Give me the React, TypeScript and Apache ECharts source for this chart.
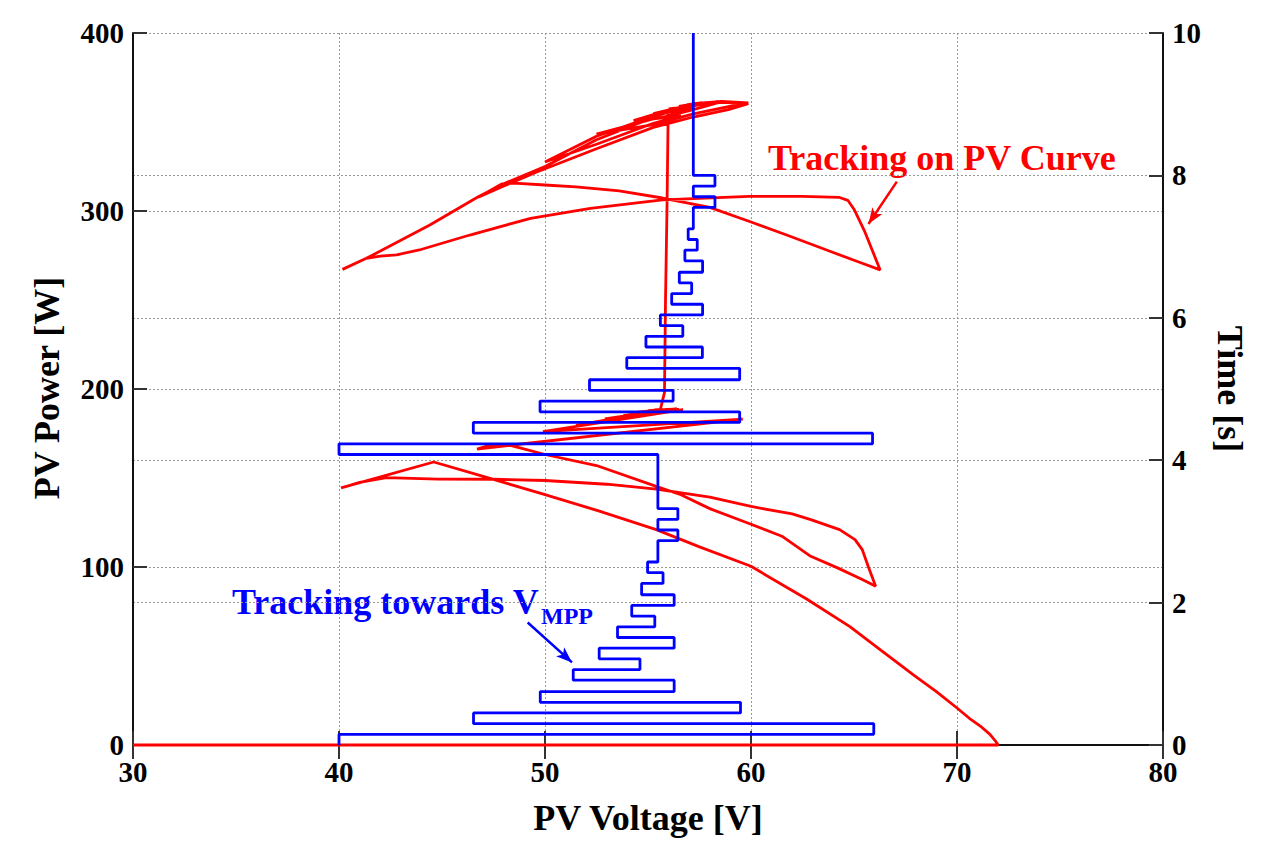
import { useEffect, useRef } from "react";
import * as echarts from "echarts";

const serif = '"Liberation Serif", "Times New Roman", serif';

// blue: voltage reference held over time (right axis), one entry per hold
const holdTimes = [
  0, 0.15, 0.3, 0.45, 0.6, 0.75, 0.91, 1.06, 1.21, 1.36,
  1.51, 1.66, 1.81, 1.96, 2.11, 2.27, 2.42, 2.57, 2.87, 3.02,
  3.17, 3.32, 4.08, 4.23, 4.38, 4.53, 4.68, 4.83, 4.98, 5.13,
  5.29, 5.44, 5.59, 5.74, 5.89, 6.04, 6.19, 6.34, 6.49, 6.64,
  6.8, 6.95, 7.1, 7.25, 7.55, 7.7, 7.85, 8.0,
];
const holdVoltages = [
  40, 65.96, 46.53, 59.49, 49.77, 56.27, 51.37, 54.61, 52.63, 56.27,
  53.52, 55.33, 54.21, 56.27, 54.69, 55.73, 54.98, 55.48, 56.45, 55.48,
  56.45, 55.48, 40.0, 65.9, 46.52, 59.45, 49.76, 56.22, 52.16, 59.45,
  53.97, 57.64, 54.9, 56.69, 55.6, 57.65, 56.15, 57.12, 56.52, 57.65,
  56.79, 57.39, 56.95, 57.2, 58.25, 57.2, 58.25, 57.2,
];
const holdEnd = 10;

// red: measured P-V trajectory, [V, W]
const redStartup = [[30, 0], [72, 0]];
const redLowSweep = [
  [71.85, 2.5], [71.6, 6], [71.2, 10], [70.6, 15], [70, 20.8], [69, 30],
  [67.9, 39.3], [66.3, 53.3], [64.8, 66.5], [62.7, 82], [60, 100.4],
  [57.5, 111.3], [55.4, 121], [52.6, 131.5], [50, 140.7], [47, 150.9],
  [44.6, 159], [40.1, 144.4],
];
const redLowTo66 = [
  [41, 147.5], [42.3, 150.2], [44.8, 149.4], [47.5, 149.3], [50, 148.6],
  [53, 146.5], [55.4, 143.7], [58, 139.2], [60, 134], [62, 129.8],
  [62.9, 126.6], [64.3, 121], [65.05, 115.4], [65.4, 109.8], [65.7, 100],
  [66.05, 89.2],
];
const redLowTo46 = [
  [65.4, 93], [64.2, 99.5], [62.9, 106], [61.5, 117.3], [60, 124],
  [58, 132.8], [56.6, 140.6], [55.4, 145.3], [52.5, 157], [50, 163.2],
  [48.2, 168.7], [47.3, 168.4], [46.7, 166.3],
];
const redLowZigzag = [
  [59.6, 183.1], [49.9, 176], [56.7, 188.4], [51.5, 179.6], [54.9, 186.6],
  [52.9, 183.2], [56.5, 188.6], [53.8, 185], [55.6, 188.2], [54.5, 187],
  [56.4, 188.8], [55, 187.8], [56, 188.6], [55.3, 188.2], [55.6, 188.5],
];
const redRise = [[55.8, 198], [55.85, 250], [55.92, 300], [55.98, 355.6]];
const redHighTo40 = [
  [55.26, 352.5], [52.5, 340], [50, 325], [47.97, 315.2], [46.76, 308],
  [44.41, 292.1], [41.33, 273.4], [40.17, 267.2],
];
const redHighTo66 = [
  [41.33, 273.4], [42, 274.6], [42.8, 275.4], [43.9, 278.1], [46.35, 286.5],
  [49.3, 295.9], [52.2, 301.5], [55.7, 306.2], [59.9, 308.2], [62.5, 308.2],
  [64.3, 307.6], [64.7, 306], [65, 301], [65.5, 289], [66.27, 266.9],
];
const redHighTo46 = [
  [65.2, 271.5], [63.8, 277.5], [61.73, 286.5], [60, 293.8], [58, 302],
  [55.7, 307.3], [53.6, 311.3], [51.5, 313.5], [50, 314.6], [48.5, 315.7],
  [47.9, 315.2], [46.76, 307.7],
];
const redHighZigzag = [
  [48, 314], [49.6, 321.9], [52.5, 335], [55.26, 347], [57.2, 352.8], [58.9, 357], [59.87, 360.3],
  [58.58, 361], [57.2, 359.3], [55.26, 353.2], [52.5, 342], [50, 327.5],
  [52.5, 337.5], [55.26, 349.3], [56.6, 353.5],
  [55.26, 351.8], [52.5, 343.2],
  [55.26, 348.5], [57.2, 354.6], [58.9, 358.6], [59.87, 360.8],
  [58.58, 361.6], [57.2, 360.3], [55.26, 354.2], [54.3, 350.8],
  [55.5, 352], [57.2, 357], [58.58, 361.4],
  [57.2, 360], [55.26, 354.7],
  [56.2, 355.5], [57.2, 358.2], [56, 357.3],
  [57.2, 359], [58.4, 361.5],
  [57.2, 360.2], [56.5, 358.8],
  [57.4, 360.3], [56.9, 359.8], [57.6, 360.8], [57.2, 360.3],
];

// annotation arrows: red in [V, W], blue in [V, s]
const redArrow = [[67.08, 316.5], [65.7, 292.7]];
const blueArrow = [[49.16, 1.72], [51.31, 1.16]];

export default function App() {
  const chartRef = useRef<HTMLDivElement | null>(null);

  useEffect(() => {
    if (!chartRef.current) {
      return;
    }

    const bluePath: number[][] = [];
    holdVoltages.forEach((v, i) => {
      const next = i + 1 < holdTimes.length ? holdTimes[i + 1] : holdEnd;
      bluePath.push([v, holdTimes[i]], [v, next]);
    });

    const redPath = [
      ...redStartup, ...redLowSweep, ...redLowTo66, ...redLowTo46,
      ...redLowZigzag, ...redRise, ...redHighTo40, ...redHighTo66,
      ...redHighTo46, ...redHighZigzag,
    ];

    const axisLabel = {
      color: "#000",
      fontFamily: serif,
      fontWeight: "bold" as const,
      fontSize: 29,
    };
    const axisLine = { show: true, lineStyle: { color: "#111", width: 2 } };
    const axisTick = { show: true, inside: true, length: 14, lineStyle: { color: "#333", width: 2 } };
    const splitLine = { show: true, lineStyle: { color: "#999", width: 1, type: [2, 2] } };

    const chart = echarts.init(chartRef.current, null, { renderer: "svg" });
    chart.setOption({
      animation: false,
      backgroundColor: "#fff",
      grid: { left: 133, right: 117, top: 33, bottom: 107 },
      xAxis: [
        {
          type: "value",
          min: 30,
          max: 80,
          interval: 10,
          position: "bottom",
          axisLine,
          axisTick,
          splitLine,
          axisLabel: { ...axisLabel, margin: 12 },
        },
        {
          type: "value",
          min: 30,
          max: 80,
          interval: 10,
          position: "top",
          axisLine,
          axisTick,
          splitLine: { show: false },
          axisLabel: { show: false },
        },
      ],
      yAxis: [
        {
          type: "value",
          min: 0,
          max: 400,
          interval: 100,
          position: "left",
          axisLine,
          axisTick,
          splitLine,
          axisLabel: { ...axisLabel, margin: 9 },
        },
        {
          type: "value",
          min: 0,
          max: 10,
          interval: 2,
          position: "right",
          axisLine,
          axisTick,
          splitLine,
          axisLabel: { ...axisLabel, margin: 9 },
        },
      ],
      series: [
        {
          name: "PV power",
          type: "line",
          xAxisIndex: 0,
          yAxisIndex: 0,
          data: redPath,
          showSymbol: false,
          clip: false,
          lineStyle: { color: "#ff0000", width: 2.8 },
          itemStyle: { color: "#ff0000" },
          markLine: {
            silent: true,
            symbol: ["none", "arrow"],
            symbolSize: [9, 16],
            label: { show: false },
            lineStyle: { color: "#ff0000", width: 2.5, type: "solid" },
            data: [[{ coord: redArrow[0] }, { coord: redArrow[1] }]],
          },
        },
        {
          name: "Voltage reference",
          type: "line",
          xAxisIndex: 0,
          yAxisIndex: 1,
          data: bluePath,
          showSymbol: false,
          lineStyle: { color: "#0000ff", width: 2.8 },
          itemStyle: { color: "#0000ff" },
          markLine: {
            silent: true,
            symbol: ["none", "arrow"],
            symbolSize: [9, 16],
            label: { show: false },
            lineStyle: { color: "#0000ff", width: 2.5, type: "solid" },
            data: [[{ coord: blueArrow[0] }, { coord: blueArrow[1] }]],
          },
        },
      ],
      graphic: [
        {
          type: "text",
          x: 768,
          y: 158,
          style: {
            text: "Tracking on PV Curve",
            fill: "#ff0000",
            font: `bold 36px ${serif}`,
            verticalAlign: "middle",
          },
        },
        {
          type: "text",
          x: 232,
          y: 602,
          style: {
            text: "Tracking towards V",
            fill: "#0000ff",
            font: `bold 36px ${serif}`,
            verticalAlign: "middle",
          },
        },
        {
          type: "text",
          x: 541,
          y: 616,
          style: {
            text: "MPP",
            fill: "#0000ff",
            font: `bold 24px ${serif}`,
            verticalAlign: "middle",
          },
        },
        {
          type: "text",
          x: 648,
          y: 818,
          style: {
            text: "PV Voltage [V]",
            fill: "#000",
            font: `bold 36px ${serif}`,
            align: "center",
            verticalAlign: "middle",
          },
        },
        {
          type: "text",
          x: 47,
          y: 388,
          rotation: Math.PI / 2,
          style: {
            text: "PV Power [W]",
            fill: "#000",
            font: `bold 36px ${serif}`,
            align: "center",
            verticalAlign: "middle",
          },
        },
        {
          type: "text",
          x: 1230,
          y: 389,
          rotation: -Math.PI / 2,
          style: {
            text: "Time [s]",
            fill: "#000",
            font: `bold 36px ${serif}`,
            align: "center",
            verticalAlign: "middle",
          },
        },
      ],
    });

    return () => {
      chart.dispose();
    };
  }, []);

  return (
    <div
      ref={chartRef}
      style={{ position: "absolute", left: 0, top: 0, width: 1280, height: 852, background: "#fff" }}
    />
  );
}
